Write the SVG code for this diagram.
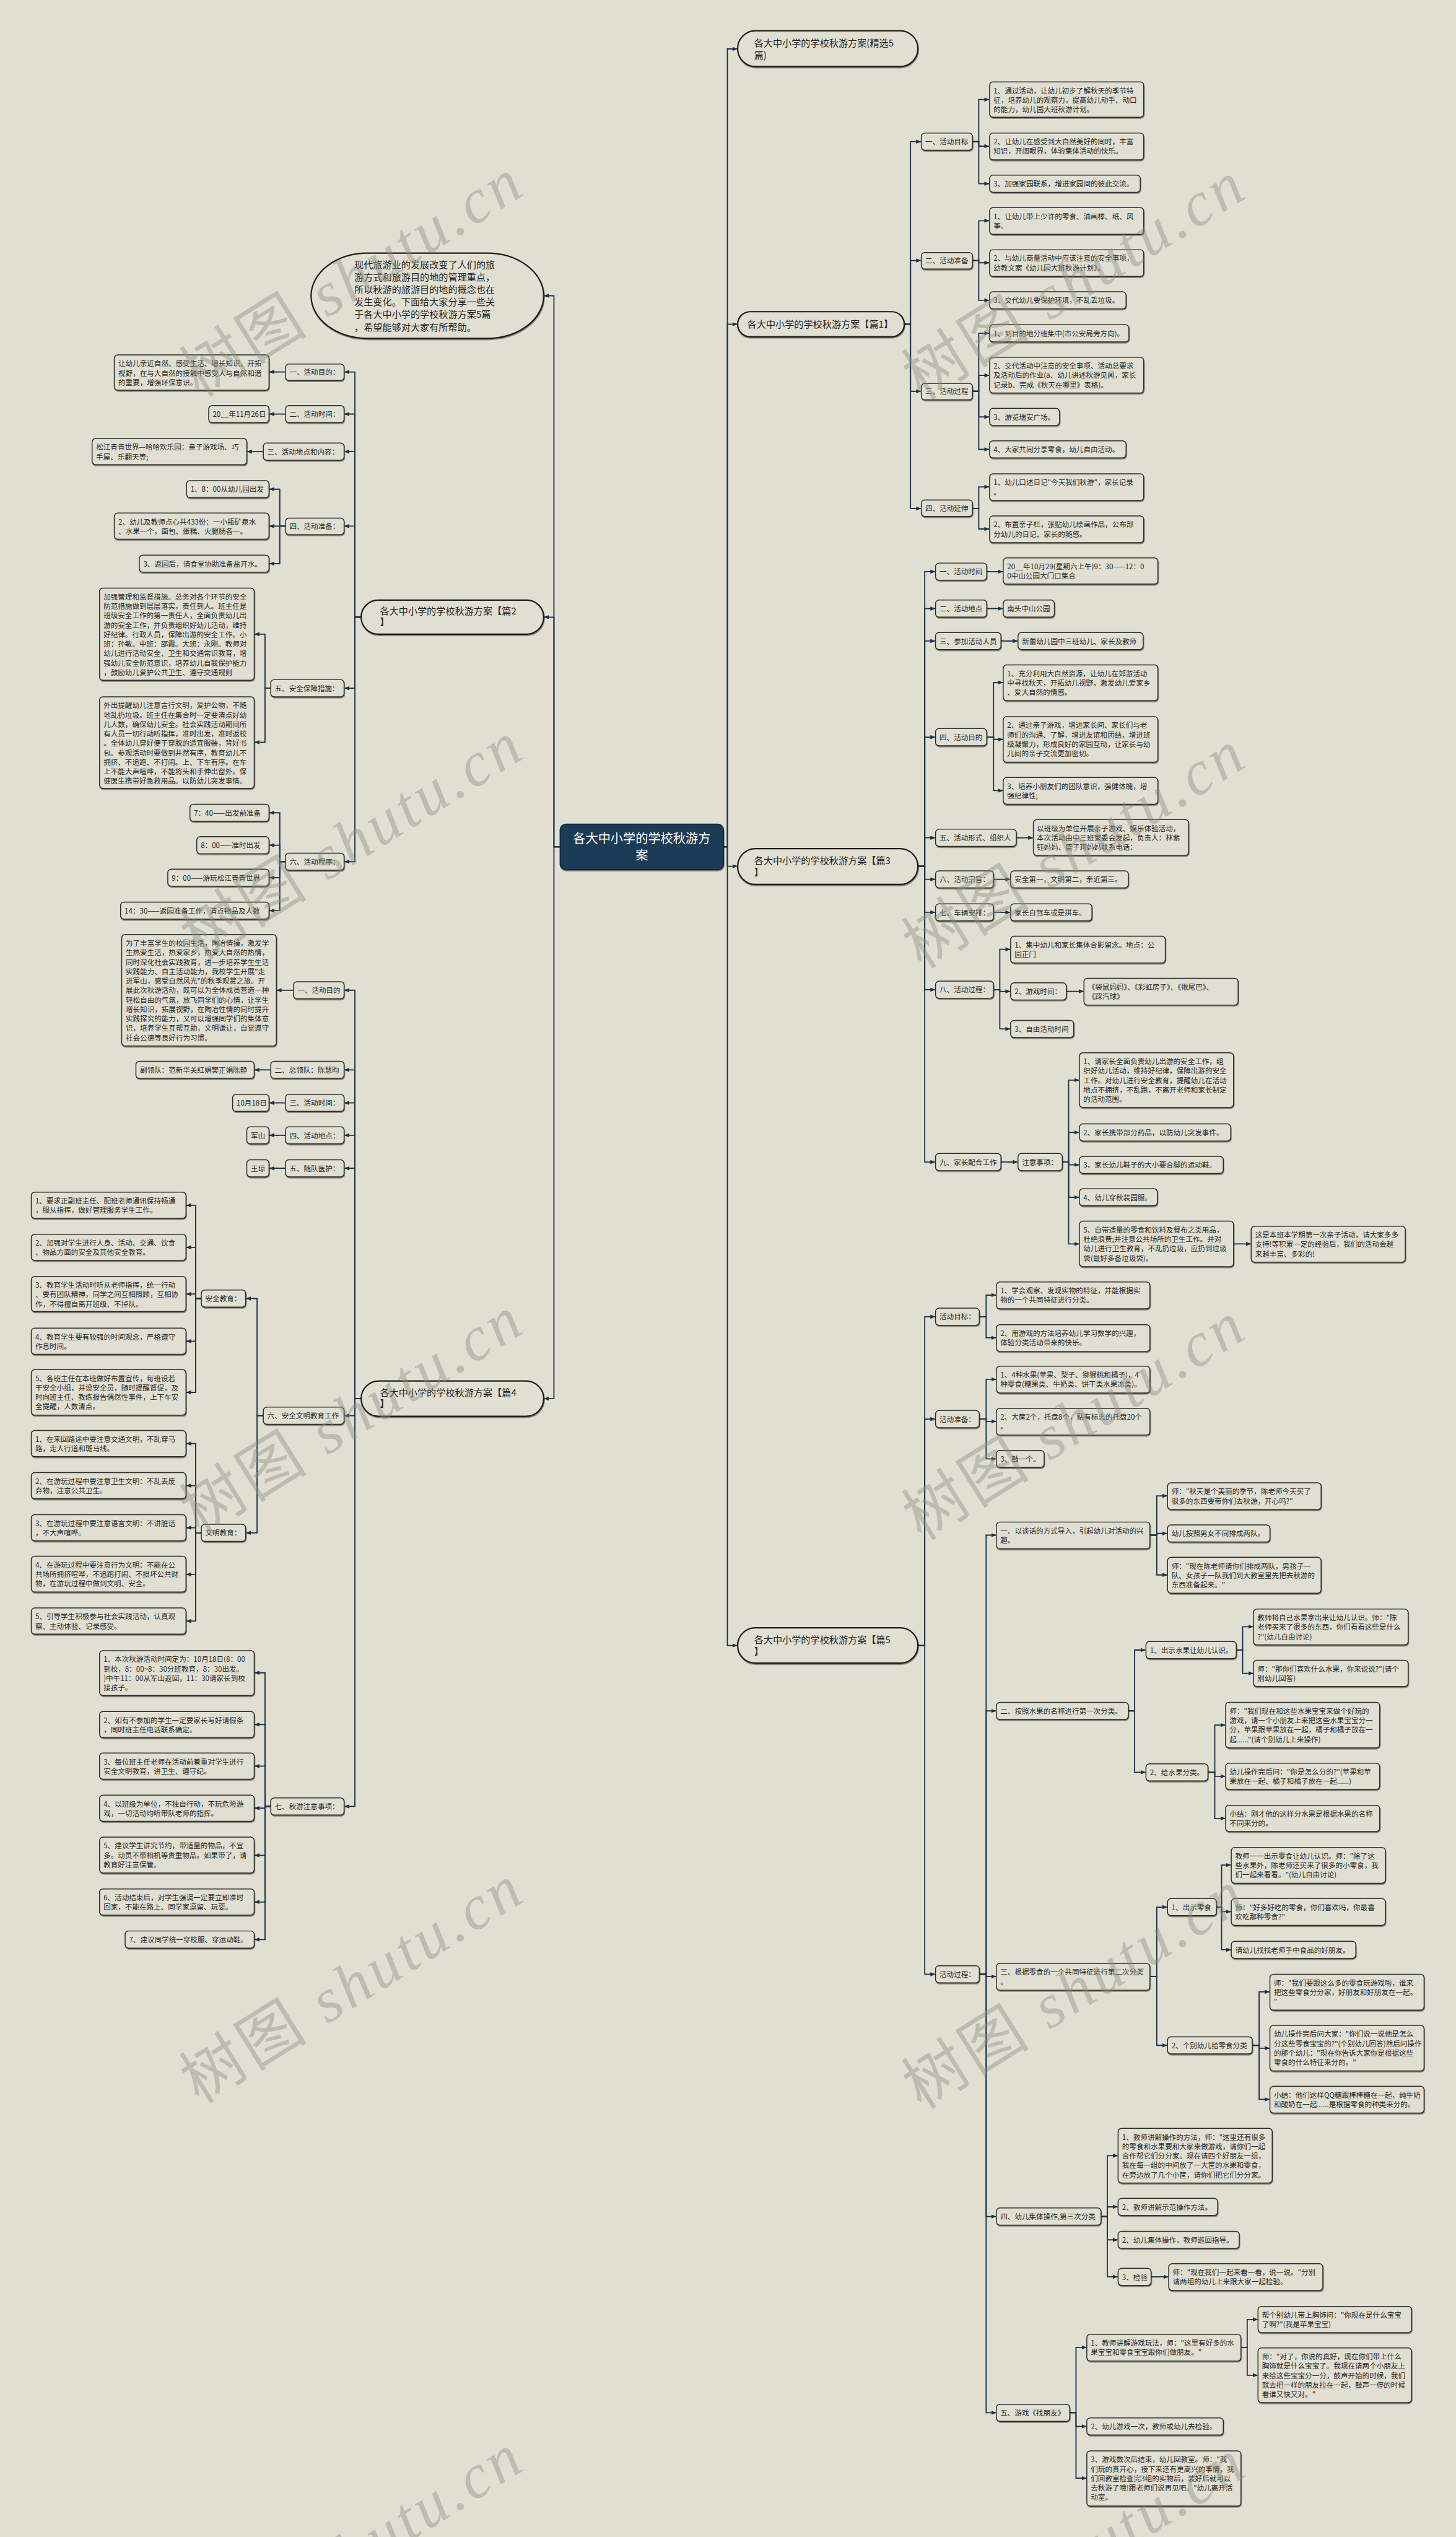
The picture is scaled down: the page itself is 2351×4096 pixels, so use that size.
<svg xmlns="http://www.w3.org/2000/svg" width="2351" height="4096" viewBox="0 0 2351 4096">
<style>
.b{fill:#e0dfd2;stroke:#2a2a2a;stroke-width:1.6;filter:url(#sh)}
.p{fill:#e0dfd2;stroke:#1e1e1e;stroke-width:2.4;filter:url(#sh)}
.t{font-family:"Noto Sans CJK SC","Noto Sans",sans-serif;font-size:12.6px;fill:#262626}
.tp{font-family:"Noto Sans CJK SC","Noto Sans",sans-serif;font-size:16.5px;fill:#222}
.tr{font-family:"Noto Sans CJK SC","Noto Sans",sans-serif;font-size:22px;fill:#ffffff;text-anchor:middle}
.c path{fill:none;stroke:#1b3149;stroke-width:2;marker-end:url(#ar)}
.wm{font-family:"Liberation Serif","Noto Sans CJK SC",serif;font-size:110px;fill:#8d8d83;opacity:0.42;letter-spacing:6px}
</style>
<defs>
<marker id="ar" viewBox="0 0 10 10" refX="9" refY="5" markerWidth="9" markerHeight="9" markerUnits="userSpaceOnUse" orient="auto"><path d="M0,1 L10,5 L0,9 z" fill="#1b3149"/></marker>
<filter id="sh" x="-5%" y="-10%" width="110%" height="130%"><feDropShadow dx="0.8" dy="1.8" stdDeviation="0.6" flood-color="#000" flood-opacity="0.5"/></filter>
</defs>
<rect width="2351" height="4096" fill="#e0dfd2"/>
<g transform="scale(0.9183)">
<g class="c" id="connectors">
<path d="M985,1489H974V520H957"/><path d="M985,1489H974V1085H957"/><path d="M985,1489H974V2459H957"/>
<path d="M1272,1489H1279V86H1296"/><path d="M1272,1489H1279V570H1296"/><path d="M1272,1489H1279V1523H1296"/><path d="M1272,1489H1279V2893H1296"/>
<path d="M635,1085H624V654H606"/><path d="M635,1085H624V728H606"/><path d="M635,1085H624V794H606"/><path d="M635,1085H624V925H606"/><path d="M635,1085H624V1210H606"/><path d="M635,1085H624V1515H606"/>
<path d="M502,654H474"/><path d="M502,728H474"/><path d="M463,794H435"/>
<path d="M502,925H492V860H474"/><path d="M502,925H474"/><path d="M502,925H492V991H474"/>
<path d="M476,1210H466V1115H448"/><path d="M476,1210H466V1305H448"/>
<path d="M502,1515H492V1429H474"/><path d="M502,1515H492V1486H474"/><path d="M502,1515H492V1543H474"/><path d="M502,1515H492V1601H474"/>
<path d="M635,2459H624V1741H606"/><path d="M635,2459H624V1881H606"/><path d="M635,2459H624V1939H606"/><path d="M635,2459H624V1996H606"/><path d="M635,2459H624V2054H606"/><path d="M635,2459H624V2489H606"/><path d="M635,2459H624V3176H606"/>
<path d="M516,1741H487"/><path d="M476,1881H448"/><path d="M502,1939H474"/><path d="M502,1996H474"/><path d="M502,2054H474"/>
<path d="M463,2489H452V2283H433"/><path d="M463,2489H452V2695H433"/>
<path d="M354,2283H344V2119H328"/><path d="M354,2283H344V2193H328"/><path d="M354,2283H344V2275H328"/><path d="M354,2283H344V2358H328"/><path d="M354,2283H344V2448H328"/>
<path d="M354,2695H344V2538H328"/><path d="M354,2695H344V2612H328"/><path d="M354,2695H344V2686H328"/><path d="M354,2695H344V2768H328"/><path d="M354,2695H344V2850H328"/>
<path d="M476,3176H466V2941H448"/><path d="M476,3176H466V3032H448"/><path d="M476,3176H466V3105H448"/><path d="M476,3176H466V3179H448"/><path d="M476,3176H466V3262H448"/><path d="M476,3176H466V3344H448"/><path d="M476,3176H466V3410H448"/>
<path d="M1590,570H1601V249H1619"/><path d="M1590,570H1601V458H1619"/><path d="M1590,570H1601V688H1619"/><path d="M1590,570H1601V894H1619"/>
<path d="M1710,249H1721V175H1739"/><path d="M1710,249H1721V257H1739"/><path d="M1710,249H1721V323H1739"/>
<path d="M1710,458H1721V388H1739"/><path d="M1710,458H1721V462H1739"/><path d="M1710,458H1721V528H1739"/>
<path d="M1710,688H1721V586H1739"/><path d="M1710,688H1721V660H1739"/><path d="M1710,688H1721V733H1739"/><path d="M1710,688H1721V790H1739"/>
<path d="M1710,894H1721V856H1739"/><path d="M1710,894H1721V930H1739"/>
<path d="M1614,1523H1626V1005H1644"/><path d="M1614,1523H1626V1070H1644"/><path d="M1614,1523H1626V1127H1644"/><path d="M1614,1523H1626V1296H1644"/><path d="M1614,1523H1626V1473H1644"/><path d="M1614,1523H1626V1546H1644"/><path d="M1614,1523H1626V1604H1644"/><path d="M1614,1523H1626V1740H1644"/><path d="M1614,1523H1626V2043H1644"/>
<path d="M1735,1005H1763"/><path d="M1735,1070H1763"/><path d="M1760,1127H1789"/>
<path d="M1735,1296H1747V1200H1763"/><path d="M1735,1296H1747V1300H1763"/><path d="M1735,1296H1747V1390H1763"/>
<path d="M1787,1473H1816"/><path d="M1747,1546H1776"/><path d="M1747,1604H1776"/>
<path d="M1747,1740H1758V1669H1776"/><path d="M1747,1740H1758V1743H1776"/><path d="M1747,1740H1758V1809H1776"/>
<path d="M1875,1743H1905"/>
<path d="M1760,2043H1789"/>
<path d="M1868,2043H1879V1899H1897"/><path d="M1868,2043H1879V1991H1897"/><path d="M1868,2043H1879V2048H1897"/><path d="M1868,2043H1879V2105H1897"/><path d="M1868,2043H1879V2187H1897"/>
<path d="M2169,2187H2199"/>
<path d="M1614,2893H1626V2315H1644"/><path d="M1614,2893H1626V2495H1644"/><path d="M1614,2893H1626V3471H1644"/>
<path d="M1722,2315H1734V2277H1751"/><path d="M1722,2315H1734V2352H1751"/>
<path d="M1722,2495H1734V2425H1751"/><path d="M1722,2495H1734V2499H1751"/><path d="M1722,2495H1734V2565H1751"/>
<path d="M1722,3471H1734V2699H1751"/><path d="M1722,3471H1734V3008H1751"/><path d="M1722,3471H1734V3475H1751"/><path d="M1722,3471H1734V3897H1751"/><path d="M1722,3471H1734V4242H1751"/>
<path d="M2022,2699H2034V2630H2052"/><path d="M2022,2699H2034V2696H2052"/><path d="M2022,2699H2034V2769H2052"/>
<path d="M1984,3008H1995V2901H2014"/><path d="M1984,3008H1995V3116H2014"/>
<path d="M2174,2901H2185V2860H2203"/><path d="M2174,2901H2185V2942H2203"/>
<path d="M2124,3116H2136V3033H2154"/><path d="M2124,3116H2136V3123H2154"/><path d="M2124,3116H2136V3197H2154"/>
<path d="M2022,3475H2034V3353H2052"/><path d="M2022,3475H2034V3596H2052"/>
<path d="M2139,3353H2148V3279H2164"/><path d="M2139,3353H2148V3361H2164"/><path d="M2139,3353H2148V3428H2164"/>
<path d="M2202,3596H2214V3502H2232"/><path d="M2202,3596H2214V3601H2232"/><path d="M2202,3596H2214V3691H2232"/>
<path d="M1936,3897H1947V3790H1965"/><path d="M1936,3897H1947V3880H1965"/><path d="M1936,3897H1947V3938H1965"/><path d="M1936,3897H1947V4003H1965"/>
<path d="M2024,4003H2054"/>
<path d="M1881,4242H1892V4127H1910"/><path d="M1881,4242H1892V4266H1910"/><path d="M1881,4242H1892V4357H1910"/>
<path d="M2182,4127H2193V4078H2211"/><path d="M2182,4127H2193V4176H2211"/>
</g>

<g id="root"><rect x="985" y="1449" width="287" height="80" rx="10" fill="#1f3b57" stroke="#13263a" stroke-width="2" filter="url(#sh)"/><text class="tr" x="1128.5" y="1482">各大中小学的学校秋游方<tspan x="1128.5" dy="30">案</tspan></text></g>

<g id="intro"><rect class="p" x="547" y="445" width="409" height="150" rx="100" ry="75"/><text class="tp" x="623" y="471">现代旅游业的发展改变了人们的旅<tspan x="623" dy="22">游方式和旅游目的地的管理重点，</tspan><tspan x="623" dy="22">所以秋游的旅游目的地的概念也在</tspan><tspan x="623" dy="22">发生变化。下面给大家分享一些关</tspan><tspan x="623" dy="22">于各大中小学的学校秋游方案5篇</tspan><tspan x="623" dy="22">，希望能够对大家有所帮助。</tspan></text></g>

<g id="p2"><rect class="p" x="635" y="1055" width="321" height="60" rx="30"/><text class="tp" x="668" y="1080">各大中小学的学校秋游方案【篇2<tspan x="668" dy="20">】</tspan></text></g>
<g id="p2-1"><rect class="b" x="502" y="640" width="103" height="29" rx="6"/><text class="t" x="509" y="659">一、活动目的：</text></g>
<g id="p2-1a"><rect class="b" x="201" y="624" width="272" height="62" rx="6"/><text class="t" x="208" y="644">让幼儿亲近自然、感受生活、增长知识、开拓<tspan x="208" dy="16.6">视野，在与大自然的接触中感受人与自然和谐</tspan><tspan x="208" dy="16.6">的重要，增强环保意识。</tspan></text></g>
<g id="p2-2"><rect class="b" x="502" y="713" width="103" height="30" rx="6"/><text class="t" x="509" y="733">二、活动时间：</text></g>
<g id="p2-2a"><rect class="b" x="367" y="713" width="106" height="30" rx="6"/><text class="t" x="374" y="733">20__年11月26日</text></g>
<g id="p2-3"><rect class="b" x="463" y="779" width="142" height="30" rx="6"/><text class="t" x="470" y="799">三、活动地点和内容：</text></g>
<g id="p2-3a"><rect class="b" x="162" y="771" width="272" height="46" rx="6"/><text class="t" x="169" y="791">松江青青世界—哈哈欢乐园：亲子游戏场、巧<tspan x="169" dy="16.6">手屋、乐翻天等;</tspan></text></g>
<g id="p2-4"><rect class="b" x="502" y="911" width="103" height="29" rx="6"/><text class="t" x="509" y="930">四、活动准备：</text></g>
<g id="p2-4a"><rect class="b" x="328" y="845" width="145" height="30" rx="6"/><text class="t" x="335" y="865">1、8：00从幼儿园出发</text></g>
<g id="p2-4b"><rect class="b" x="201" y="902" width="272" height="46" rx="6"/><text class="t" x="208" y="922">2、幼儿及教师点心共433份：一小瓶矿泉水<tspan x="208" dy="16.6">、水果一个，面包、蛋糕、火腿肠各一。</tspan></text></g>
<g id="p2-4c"><rect class="b" x="245" y="976" width="228" height="30" rx="6"/><text class="t" x="252" y="996">3、返园后，请食堂协助准备盐开水。</text></g>
<g id="p2-5"><rect class="b" x="476" y="1195" width="129" height="30" rx="6"/><text class="t" x="483" y="1215">五、安全保障措施：</text></g>
<g id="p2-5a"><rect class="b" x="175" y="1034" width="272" height="162" rx="6"/><text class="t" x="182" y="1054">加强管理和监督措施。总务对各个环节的安全<tspan x="182" dy="16.6">防范措施做到层层落实，责任到人。班主任是</tspan><tspan x="182" dy="16.6">班级安全工作的第一责任人，全面负责幼儿出</tspan><tspan x="182" dy="16.6">游的安全工作，并负责组织好幼儿活动，维持</tspan><tspan x="182" dy="16.6">好纪律。行政人员，保障出游的安全工作。小</tspan><tspan x="182" dy="16.6">班：孙敏。中班：邵霞。大班：永刚。教师对</tspan><tspan x="182" dy="16.6">幼儿进行活动安全、卫生和交通常识教育，增</tspan><tspan x="182" dy="16.6">强幼儿安全防范意识，培养幼儿自我保护能力</tspan><tspan x="182" dy="16.6">，鼓励幼儿爱护公共卫生、遵守交通规则</tspan></text></g>
<g id="p2-5b"><rect class="b" x="175" y="1225" width="272" height="161" rx="6"/><text class="t" x="182" y="1245">外出提醒幼儿注意言行文明，爱护公物，不随<tspan x="182" dy="16.6">地乱扔垃圾。班主任在集合时一定要清点好幼</tspan><tspan x="182" dy="16.6">儿人数，确保幼儿安全。社会实践活动期间所</tspan><tspan x="182" dy="16.6">有人员一切行动听指挥，准时出发，准时返校</tspan><tspan x="182" dy="16.6">。全体幼儿穿好便于穿脱的适宜服装，背好书</tspan><tspan x="182" dy="16.6">包。参观活动时要做到井然有序，教育幼儿不</tspan><tspan x="182" dy="16.6">拥挤、不追跑、不打闹。上、下车有序。在车</tspan><tspan x="182" dy="16.6">上不能大声喧哗，不能将头和手伸出窗外。保</tspan><tspan x="182" dy="16.6">健医生携带好急救用品。以防幼儿突发事情。</tspan></text></g>
<g id="p2-6"><rect class="b" x="502" y="1500" width="103" height="30" rx="6"/><text class="t" x="509" y="1520">六、活动程序：</text></g>
<g id="p2-6a"><rect class="b" x="334" y="1414" width="139" height="30" rx="6"/><text class="t" x="341" y="1434">7：40——出发前准备</text></g>
<g id="p2-6b"><rect class="b" x="346" y="1471" width="127" height="30" rx="6"/><text class="t" x="353" y="1491">8：00——准时出发</text></g>
<g id="p2-6c"><rect class="b" x="295" y="1528" width="178" height="30" rx="6"/><text class="t" x="302" y="1548">9：00——游玩松江青青世界</text></g>
<g id="p2-6d"><rect class="b" x="212" y="1586" width="261" height="30" rx="6"/><text class="t" x="219" y="1606">14：30——返园准备工作，清点物品及人数</text></g>

<g id="p4"><rect class="p" x="635" y="2428" width="321" height="62" rx="31"/><text class="tp" x="668" y="2454">各大中小学的学校秋游方案【篇4<tspan x="668" dy="20">】</tspan></text></g>
<g id="p4-1"><rect class="b" x="516" y="1726" width="89" height="30" rx="6"/><text class="t" x="523" y="1746">一、活动目的</text></g>
<g id="p4-1a"><rect class="b" x="214" y="1643" width="272" height="196" rx="6"/><text class="t" x="221" y="1663">为了丰富学生的校园生活，陶冶情操，激发学<tspan x="221" dy="16.6">生热爱生活，热爱家乡，热爱大自然的热情，</tspan><tspan x="221" dy="16.6">同时深化社会实践教育，进一步培养学生生活</tspan><tspan x="221" dy="16.6">实践能力、自主活动能力，我校学生开展"走</tspan><tspan x="221" dy="16.6">进军山，感受自然风光"的秋季观赏之旅。开</tspan><tspan x="221" dy="16.6">展此次秋游活动，既可以为全体成员营造一种</tspan><tspan x="221" dy="16.6">轻松自由的气氛，放飞同学们的心情，让学生</tspan><tspan x="221" dy="16.6">增长知识，拓展视野，在陶冶性情的同时提升</tspan><tspan x="221" dy="16.6">实践探究的能力，又可以增强同学们的集体意</tspan><tspan x="221" dy="16.6">识，培养学生互帮互助，文明谦让，自觉遵守</tspan><tspan x="221" dy="16.6">社会公德等良好行为习惯。</tspan></text></g>
<g id="p4-2"><rect class="b" x="476" y="1866" width="129" height="30" rx="6"/><text class="t" x="483" y="1886">二、总领队：陈慧昀</text></g>
<g id="p4-2a"><rect class="b" x="239" y="1866" width="208" height="30" rx="6"/><text class="t" x="246" y="1886">副领队：范新华关红娟樊正娟陈静</text></g>
<g id="p4-3"><rect class="b" x="502" y="1924" width="103" height="30" rx="6"/><text class="t" x="509" y="1944">三、活动时间：</text></g>
<g id="p4-3a"><rect class="b" x="409" y="1924" width="64" height="30" rx="6"/><text class="t" x="416" y="1944">10月18日</text></g>
<g id="p4-4"><rect class="b" x="502" y="1981" width="103" height="30" rx="6"/><text class="t" x="509" y="2001">四、活动地点：</text></g>
<g id="p4-4a"><rect class="b" x="434" y="1981" width="39" height="30" rx="6"/><text class="t" x="441" y="2001">军山</text></g>
<g id="p4-5"><rect class="b" x="502" y="2039" width="103" height="30" rx="6"/><text class="t" x="509" y="2059">五、随队医护：</text></g>
<g id="p4-5a"><rect class="b" x="434" y="2039" width="39" height="30" rx="6"/><text class="t" x="441" y="2059">王琼</text></g>
<g id="p4-6"><rect class="b" x="463" y="2474" width="142" height="30" rx="6"/><text class="t" x="470" y="2494">六、安全文明教育工作</text></g>
<g id="p4-6s"><rect class="b" x="354" y="2268" width="78" height="30" rx="6"/><text class="t" x="361" y="2288">安全教育：</text></g>
<g id="p4-6s1"><rect class="b" x="55" y="2096" width="272" height="46" rx="6"/><text class="t" x="62" y="2116">1、要求正副班主任、配班老师通讯保持畅通<tspan x="62" dy="16.6">，服从指挥，做好管理服务学生工作。</tspan></text></g>
<g id="p4-6s2"><rect class="b" x="55" y="2170" width="272" height="46" rx="6"/><text class="t" x="62" y="2190">2、加强对学生进行人身、活动、交通、饮食<tspan x="62" dy="16.6">、物品方面的安全及其他安全教育。</tspan></text></g>
<g id="p4-6s3"><rect class="b" x="55" y="2244" width="272" height="62" rx="6"/><text class="t" x="62" y="2264">3、教育学生活动时听从老师指挥，统一行动<tspan x="62" dy="16.6">、要有团队精神，同学之间互相照顾，互相协</tspan><tspan x="62" dy="16.6">作，不得擅自离开班级、不掉队。</tspan></text></g>
<g id="p4-6s4"><rect class="b" x="55" y="2335" width="272" height="46" rx="6"/><text class="t" x="62" y="2355">4、教育学生要有较强的时间观念，严格遵守<tspan x="62" dy="16.6">作息时间。</tspan></text></g>
<g id="p4-6s5"><rect class="b" x="55" y="2408" width="272" height="80" rx="6"/><text class="t" x="62" y="2428">5、各班主任在本班做好布置宣传，每班设若<tspan x="62" dy="16.6">干安全小组，并设安全员，随时提醒督促，及</tspan><tspan x="62" dy="16.6">时向班主任、教练报告偶然性事件，上下车安</tspan><tspan x="62" dy="16.6">全提醒，人数清点。</tspan></text></g>
<g id="p4-6w"><rect class="b" x="354" y="2680" width="78" height="30" rx="6"/><text class="t" x="361" y="2700">文明教育：</text></g>
<g id="p4-6w1"><rect class="b" x="55" y="2515" width="272" height="46" rx="6"/><text class="t" x="62" y="2535">1、在来回路途中要注意交通文明，不乱穿马<tspan x="62" dy="16.6">路，走人行道和斑马线。</tspan></text></g>
<g id="p4-6w2"><rect class="b" x="55" y="2589" width="272" height="46" rx="6"/><text class="t" x="62" y="2609">2、在游玩过程中要注意卫生文明：不乱丢废<tspan x="62" dy="16.6">弃物，注意公共卫生。</tspan></text></g>
<g id="p4-6w3"><rect class="b" x="55" y="2663" width="272" height="46" rx="6"/><text class="t" x="62" y="2683">3、在游玩过程中要注意语言文明：不讲脏话<tspan x="62" dy="16.6">，不大声喧哗。</tspan></text></g>
<g id="p4-6w4"><rect class="b" x="55" y="2736" width="272" height="63" rx="6"/><text class="t" x="62" y="2756">4、在游玩过程中要注意行为文明：不能在公<tspan x="62" dy="16.6">共场所拥挤喧哗，不追跑打闹、不损坏公共财</tspan><tspan x="62" dy="16.6">物，在游玩过程中做到文明、安全。</tspan></text></g>
<g id="p4-6w5"><rect class="b" x="55" y="2827" width="272" height="46" rx="6"/><text class="t" x="62" y="2847">5、引导学生积极参与社会实践活动，认真观<tspan x="62" dy="16.6">察、主动体验、记录感受。</tspan></text></g>
<g id="p4-7"><rect class="b" x="476" y="3161" width="129" height="30" rx="6"/><text class="t" x="483" y="3181">七、秋游注意事项：</text></g>
<g id="p4-7a"><rect class="b" x="175" y="2902" width="272" height="79" rx="6"/><text class="t" x="182" y="2922">1、本次秋游活动时间定为：10月18日(8：00<tspan x="182" dy="16.6">到校，8：00~8：30分班教育，8：30出发。</tspan><tspan x="182" dy="16.6">)中午11：00从军山返回，11：30请家长到校</tspan><tspan x="182" dy="16.6">接孩子。</tspan></text></g>
<g id="p4-7b"><rect class="b" x="175" y="3009" width="272" height="46" rx="6"/><text class="t" x="182" y="3029">2、如有不参加的学生一定要家长写好请假条<tspan x="182" dy="16.6">，同时班主任电话联系确定。</tspan></text></g>
<g id="p4-7c"><rect class="b" x="175" y="3082" width="272" height="46" rx="6"/><text class="t" x="182" y="3102">3、每位班主任老师在活动前着重对学生进行<tspan x="182" dy="16.6">安全文明教育，讲卫生、遵守纪。</tspan></text></g>
<g id="p4-7d"><rect class="b" x="175" y="3156" width="272" height="46" rx="6"/><text class="t" x="182" y="3176">4、以班级为单位，不独自行动，不玩危险游<tspan x="182" dy="16.6">戏，一切活动均听带队老师的指挥。</tspan></text></g>
<g id="p4-7e"><rect class="b" x="175" y="3230" width="272" height="63" rx="6"/><text class="t" x="182" y="3250">5、建议学生讲究节约，带适量的物品，不宜<tspan x="182" dy="16.6">多。动员不带相机等贵重物品。如果带了，请</tspan><tspan x="182" dy="16.6">教育好注意保管。</tspan></text></g>
<g id="p4-7f"><rect class="b" x="175" y="3321" width="272" height="46" rx="6"/><text class="t" x="182" y="3341">6、活动结束后，对学生强调一定要立即准时<tspan x="182" dy="16.6">回家，不能在路上、同学家逗留、玩耍。</tspan></text></g>
<g id="p4-7g"><rect class="b" x="220" y="3395" width="227" height="30" rx="6"/><text class="t" x="227" y="3415">7、建议同学统一穿校服、穿运动鞋。</text></g>

<g id="p0"><rect class="p" x="1297" y="54" width="317" height="63" rx="31.5"/><text class="tp" x="1326" y="82">各大中小学的学校秋游方案(精选5<tspan x="1326" dy="21">篇)</tspan></text></g>

<g id="p1"><rect class="p" x="1297" y="548" width="293" height="44" rx="22"/><text class="tp" x="1314" y="576">各大中小学的学校秋游方案【篇1】</text></g>
<g id="p1-1"><rect class="b" x="1620" y="234" width="90" height="30" rx="6"/><text class="t" x="1627" y="254">一、活动目标</text></g>
<g id="p1-1a"><rect class="b" x="1740" y="144" width="271" height="62" rx="6"/><text class="t" x="1747" y="164">1、通过活动，让幼儿初步了解秋天的季节特<tspan x="1747" dy="16.6">征，培养幼儿的观察力，提高幼儿动手、动口</tspan><tspan x="1747" dy="16.6">的能力，幼儿园大班秋游计划。</tspan></text></g>
<g id="p1-1b"><rect class="b" x="1740" y="234" width="271" height="47" rx="6"/><text class="t" x="1747" y="254">2、让幼儿在感受到大自然美好的同时，丰富<tspan x="1747" dy="16.6">知识，开阔眼界，体验集体活动的快乐。</tspan></text></g>
<g id="p1-1c"><rect class="b" x="1740" y="308" width="265" height="30" rx="6"/><text class="t" x="1747" y="328">3、加强家园联系，增进家园间的彼此交流。</text></g>
<g id="p1-2"><rect class="b" x="1620" y="444" width="90" height="29" rx="6"/><text class="t" x="1627" y="463">二、活动准备</text></g>
<g id="p1-2a"><rect class="b" x="1740" y="365" width="271" height="47" rx="6"/><text class="t" x="1747" y="385">1、让幼儿带上少许的零食、油画棒、纸、风<tspan x="1747" dy="16.6">筝。</tspan></text></g>
<g id="p1-2b"><rect class="b" x="1740" y="439" width="271" height="47" rx="6"/><text class="t" x="1747" y="459">2、与幼儿商量活动中应该注意的安全事项，<tspan x="1747" dy="16.6">幼教文案《幼儿园大班秋游计划》。</tspan></text></g>
<g id="p1-2c"><rect class="b" x="1740" y="513" width="240" height="30" rx="6"/><text class="t" x="1747" y="533">3、交代幼儿要保护环境，不乱丢垃圾。</text></g>
<g id="p1-3"><rect class="b" x="1620" y="674" width="90" height="29" rx="6"/><text class="t" x="1627" y="693">三、活动过程</text></g>
<g id="p1-3a"><rect class="b" x="1740" y="571" width="245" height="30" rx="6"/><text class="t" x="1747" y="591">1、到目的地分班集中(市公安局旁方向)。</text></g>
<g id="p1-3b"><rect class="b" x="1740" y="628" width="271" height="63" rx="6"/><text class="t" x="1747" y="648">2、交代活动中注意的安全事项、活动总要求<tspan x="1747" dy="16.6">及活动后的作业(a、幼儿讲述秋游见闻，家长</tspan><tspan x="1747" dy="16.6">记录b、完成《秋天在哪里》表格)。</tspan></text></g>
<g id="p1-3c"><rect class="b" x="1740" y="718" width="123" height="30" rx="6"/><text class="t" x="1747" y="738">3、游览瑞安广场。</text></g>
<g id="p1-3d"><rect class="b" x="1740" y="775" width="240" height="30" rx="6"/><text class="t" x="1747" y="795">4、大家共同分享零食，幼儿自由活动。</text></g>
<g id="p1-4"><rect class="b" x="1620" y="879" width="90" height="29" rx="6"/><text class="t" x="1627" y="898">四、活动延伸</text></g>
<g id="p1-4a"><rect class="b" x="1740" y="833" width="271" height="47" rx="6"/><text class="t" x="1747" y="853">1、幼儿口述日记"今天我们秋游"，家长记录<tspan x="1747" dy="16.6">。</tspan></text></g>
<g id="p1-4b"><rect class="b" x="1740" y="907" width="271" height="47" rx="6"/><text class="t" x="1747" y="927">2、布置亲子栏，张贴幼儿绘画作品，公布部<tspan x="1747" dy="16.6">分幼儿的日记、家长的随感。</tspan></text></g>

<g id="p3"><rect class="p" x="1297" y="1492" width="317" height="63" rx="31.5"/><text class="tp" x="1326" y="1519">各大中小学的学校秋游方案【篇3<tspan x="1326" dy="21">】</tspan></text></g>
<g id="p3-1"><rect class="b" x="1645" y="990" width="90" height="30" rx="6"/><text class="t" x="1652" y="1010">一、活动时间</text></g>
<g id="p3-1a"><rect class="b" x="1764" y="981" width="272" height="46" rx="6"/><text class="t" x="1771" y="1001">20__年10月29(星期六上午)9：30——12：0<tspan x="1771" dy="16.6">0中山公园大门口集合</tspan></text></g>
<g id="p3-2"><rect class="b" x="1645" y="1055" width="90" height="30" rx="6"/><text class="t" x="1652" y="1075">二、活动地点</text></g>
<g id="p3-2a"><rect class="b" x="1764" y="1055" width="90" height="30" rx="6"/><text class="t" x="1771" y="1075">南头中山公园</text></g>
<g id="p3-3"><rect class="b" x="1645" y="1112" width="115" height="30" rx="6"/><text class="t" x="1652" y="1132">三、参加活动人员</text></g>
<g id="p3-3a"><rect class="b" x="1790" y="1112" width="220" height="30" rx="6"/><text class="t" x="1797" y="1132">新蕾幼儿园中三班幼儿、家长及教师</text></g>
<g id="p3-4"><rect class="b" x="1645" y="1281" width="90" height="30" rx="6"/><text class="t" x="1652" y="1301">四、活动目的</text></g>
<g id="p3-4a"><rect class="b" x="1764" y="1169" width="272" height="63" rx="6"/><text class="t" x="1771" y="1189">1、充分利用大自然资源，让幼儿在郊游活动<tspan x="1771" dy="16.6">中寻找秋天，开拓幼儿视野，激发幼儿爱家乡</tspan><tspan x="1771" dy="16.6">、爱大自然的情感。</tspan></text></g>
<g id="p3-4b"><rect class="b" x="1764" y="1260" width="272" height="80" rx="6"/><text class="t" x="1771" y="1280">2、通过亲子游戏，增进家长间、家长们与老<tspan x="1771" dy="16.6">师们的沟通、了解，增进友谊和团结，增进班</tspan><tspan x="1771" dy="16.6">级凝聚力，形成良好的家园互动，让家长与幼</tspan><tspan x="1771" dy="16.6">儿间的亲子交流更加密切。</tspan></text></g>
<g id="p3-4c"><rect class="b" x="1764" y="1367" width="272" height="47" rx="6"/><text class="t" x="1771" y="1387">3、培养小朋友们的团队意识，强健体魄，增<tspan x="1771" dy="16.6">强纪律性;</tspan></text></g>
<g id="p3-5"><rect class="b" x="1645" y="1458" width="142" height="30" rx="6"/><text class="t" x="1652" y="1478">五、活动形式、组织人</text></g>
<g id="p3-5a"><rect class="b" x="1817" y="1441" width="273" height="63" rx="6"/><text class="t" x="1823" y="1461">以班级为单位开展亲子游戏、娱乐体验活动，<tspan x="1823" dy="16.6">本次活动由中三班家委会发起，负责人：林紫</tspan><tspan x="1823" dy="16.6">钰妈妈、盛子珂妈妈联系电话：</tspan></text></g>
<g id="p3-6"><rect class="b" x="1645" y="1531" width="102" height="30" rx="6"/><text class="t" x="1652" y="1551">六、活动宗旨：</text></g>
<g id="p3-6a"><rect class="b" x="1777" y="1531" width="207" height="30" rx="6"/><text class="t" x="1784" y="1551">安全第一，文明第二，亲近第三。</text></g>
<g id="p3-7"><rect class="b" x="1645" y="1589" width="102" height="30" rx="6"/><text class="t" x="1652" y="1609">七、车辆安排：</text></g>
<g id="p3-7a"><rect class="b" x="1777" y="1589" width="143" height="30" rx="6"/><text class="t" x="1784" y="1609">家长自驾车或是拼车。</text></g>
<g id="p3-8"><rect class="b" x="1645" y="1725" width="102" height="30" rx="6"/><text class="t" x="1652" y="1745">八、活动过程：</text></g>
<g id="p3-8a"><rect class="b" x="1777" y="1646" width="272" height="47" rx="6"/><text class="t" x="1784" y="1666">1、集中幼儿和家长集体合影留念。地点：公<tspan x="1784" dy="16.6">园正门</tspan></text></g>
<g id="p3-8b"><rect class="b" x="1777" y="1728" width="98" height="30" rx="6"/><text class="t" x="1784" y="1748">2、游戏时间：</text></g>
<g id="p3-8b1"><rect class="b" x="1906" y="1720" width="271" height="47" rx="6"/><text class="t" x="1913" y="1740">《袋鼠妈妈》、《彩虹房子》、《揪尾巴》、<tspan x="1913" dy="16.6">《踩汽球》</tspan></text></g>
<g id="p3-8c"><rect class="b" x="1777" y="1794" width="111" height="30" rx="6"/><text class="t" x="1784" y="1814">3、自由活动时间</text></g>
<g id="p3-9"><rect class="b" x="1645" y="2028" width="115" height="30" rx="6"/><text class="t" x="1652" y="2048">九、家长配合工作</text></g>
<g id="p3-9n"><rect class="b" x="1790" y="2028" width="78" height="30" rx="6"/><text class="t" x="1797" y="2048">注意事项：</text></g>
<g id="p3-9a"><rect class="b" x="1898" y="1851" width="271" height="96" rx="6"/><text class="t" x="1905" y="1871">1、请家长全面负责幼儿出游的安全工作，组<tspan x="1905" dy="16.6">织好幼儿活动，维持好纪律，保障出游的安全</tspan><tspan x="1905" dy="16.6">工作。对幼儿进行安全教育，提醒幼儿在活动</tspan><tspan x="1905" dy="16.6">地点不拥挤，不乱跑，不离开老师和家长制定</tspan><tspan x="1905" dy="16.6">的活动范围。</tspan></text></g>
<g id="p3-9b"><rect class="b" x="1898" y="1976" width="266" height="30" rx="6"/><text class="t" x="1905" y="1996">2、家长携带部分药品，以防幼儿突发事件。</text></g>
<g id="p3-9c"><rect class="b" x="1898" y="2033" width="253" height="30" rx="6"/><text class="t" x="1905" y="2053">3、家长幼儿鞋子的大小要合脚的运动鞋。</text></g>
<g id="p3-9d"><rect class="b" x="1898" y="2090" width="137" height="30" rx="6"/><text class="t" x="1905" y="2110">4、幼儿穿秋装园服。</text></g>
<g id="p3-9e"><rect class="b" x="1898" y="2147" width="271" height="80" rx="6"/><text class="t" x="1905" y="2167">5、自带适量的零食和饮料及餐布之类用品，<tspan x="1905" dy="16.6">杜绝浪费;并注意公共场所的卫生工作。并对</tspan><tspan x="1905" dy="16.6">幼儿进行卫生教育，不乱扔垃圾，应扔到垃圾</tspan><tspan x="1905" dy="16.6">袋(最好多备垃圾袋)。</tspan></text></g>
<g id="p3-9f"><rect class="b" x="2200" y="2156" width="271" height="63" rx="6"/><text class="t" x="2207" y="2176">这是本班本学期第一次亲子活动，请大家多多<tspan x="2207" dy="16.6">支持!等积累一定的经验后，我们的活动会越</tspan><tspan x="2207" dy="16.6">来越丰富、多彩的!</tspan></text></g>

<g id="p5"><rect class="p" x="1297" y="2862" width="317" height="62" rx="31"/><text class="tp" x="1326" y="2889">各大中小学的学校秋游方案【篇5<tspan x="1326" dy="21">】</tspan></text></g>
<g id="p5-1"><rect class="b" x="1645" y="2300" width="77" height="30" rx="6"/><text class="t" x="1652" y="2320">活动目标：</text></g>
<g id="p5-1a"><rect class="b" x="1752" y="2254" width="270" height="47" rx="6"/><text class="t" x="1759" y="2274">1、学会观察、发现实物的特征，并能根据实<tspan x="1759" dy="16.6">物的一个共同特征进行分类。</tspan></text></g>
<g id="p5-1b"><rect class="b" x="1752" y="2329" width="270" height="47" rx="6"/><text class="t" x="1759" y="2349">2、用游戏的方法培养幼儿学习数学的兴趣，<tspan x="1759" dy="16.6">体验分类活动带来的快乐。</tspan></text></g>
<g id="p5-2"><rect class="b" x="1645" y="2480" width="77" height="30" rx="6"/><text class="t" x="1652" y="2500">活动准备：</text></g>
<g id="p5-2a"><rect class="b" x="1752" y="2402" width="270" height="47" rx="6"/><text class="t" x="1759" y="2422">1、4种水果(苹果、梨子、猕猴桃和橘子)，4<tspan x="1759" dy="16.6">种零食(糖果类、牛奶类、饼干类水果冻类)。</tspan></text></g>
<g id="p5-2b"><rect class="b" x="1752" y="2476" width="270" height="47" rx="6"/><text class="t" x="1759" y="2496">2、大筐2个，托盘8个，贴有标志的托盘20个<tspan x="1759" dy="16.6">。</tspan></text></g>
<g id="p5-2c"><rect class="b" x="1752" y="2550" width="84" height="30" rx="6"/><text class="t" x="1759" y="2570">3、鼓一个。</text></g>
<g id="p5-3"><rect class="b" x="1645" y="3456" width="77" height="30" rx="6"/><text class="t" x="1652" y="3476">活动过程：</text></g>
<g id="p5-3a"><rect class="b" x="1752" y="2676" width="270" height="47" rx="6"/><text class="t" x="1759" y="2696">一、以谈话的方式导入，引起幼儿对活动的兴<tspan x="1759" dy="16.6">趣。</tspan></text></g>
<g id="p5-3a1"><rect class="b" x="2053" y="2607" width="270" height="47" rx="6"/><text class="t" x="2060" y="2627">师："秋天是个美丽的季节，陈老师今天买了<tspan x="2060" dy="16.6">很多的东西要带你们去秋游，开心吗?"</tspan></text></g>
<g id="p5-3a2"><rect class="b" x="2053" y="2681" width="180" height="30" rx="6"/><text class="t" x="2060" y="2701">幼儿按照男女不同排成两队。</text></g>
<g id="p5-3a3"><rect class="b" x="2053" y="2738" width="270" height="63" rx="6"/><text class="t" x="2060" y="2758">师："现在陈老师请你们排成两队，男孩子一<tspan x="2060" dy="16.6">队、女孩子一队我们到大教室里先把去秋游的</tspan><tspan x="2060" dy="16.6">东西准备起来。"</tspan></text></g>
<g id="p5-3b"><rect class="b" x="1752" y="2993" width="232" height="30" rx="6"/><text class="t" x="1759" y="3013">二、按照水果的名称进行第一次分类。</text></g>
<g id="p5-3b1"><rect class="b" x="2015" y="2886" width="159" height="30" rx="6"/><text class="t" x="2022" y="2906">1、出示水果让幼儿认识。</text></g>
<g id="p5-3b1a"><rect class="b" x="2204" y="2829" width="272" height="63" rx="6"/><text class="t" x="2211" y="2849">教师将自己水果拿出来让幼儿认识。师："陈<tspan x="2211" dy="16.6">老师买来了很多的东西，你们看看这些是什么</tspan><tspan x="2211" dy="16.6">?"(幼儿自由讨论)</tspan></text></g>
<g id="p5-3b1b"><rect class="b" x="2204" y="2919" width="272" height="46" rx="6"/><text class="t" x="2211" y="2939">师："那你们喜欢什么水果，你来说说?"(请个<tspan x="2211" dy="16.6">别幼儿回答)</tspan></text></g>
<g id="p5-3b2"><rect class="b" x="2015" y="3101" width="109" height="30" rx="6"/><text class="t" x="2022" y="3121">2、给水果分类。</text></g>
<g id="p5-3b2a"><rect class="b" x="2155" y="2993" width="271" height="80" rx="6"/><text class="t" x="2162" y="3013">师："我们现在和这些水果宝宝来做个好玩的<tspan x="2162" dy="16.6">游戏，请一个小朋友上来把这些水果宝宝分一</tspan><tspan x="2162" dy="16.6">分，苹果跟苹果放在一起，橘子和橘子放在一</tspan><tspan x="2162" dy="16.6">起......"(请个别幼儿上来操作)</tspan></text></g>
<g id="p5-3b2b"><rect class="b" x="2155" y="3100" width="271" height="46" rx="6"/><text class="t" x="2162" y="3120">幼儿操作完后问："你是怎么分的?"(苹果和苹<tspan x="2162" dy="16.6">果放在一起、橘子和橘子放在一起......)</tspan></text></g>
<g id="p5-3b2c"><rect class="b" x="2155" y="3174" width="271" height="46" rx="6"/><text class="t" x="2162" y="3194">小结：刚才他的这样分水果是根据水果的名称<tspan x="2162" dy="16.6">不同来分的。</tspan></text></g>
<g id="p5-3c"><rect class="b" x="1752" y="3452" width="270" height="47" rx="6"/><text class="t" x="1759" y="3472">三、根据零食的一个共同特征进行第二次分类<tspan x="1759" dy="16.6">。</tspan></text></g>
<g id="p5-3c1"><rect class="b" x="2053" y="3338" width="86" height="30" rx="6"/><text class="t" x="2060" y="3358">1、出示零食</text></g>
<g id="p5-3c1a"><rect class="b" x="2165" y="3248" width="271" height="63" rx="6"/><text class="t" x="2172" y="3268">教师一一出示零食让幼儿认识。师："除了这<tspan x="2172" dy="16.6">些水果外，陈老师还买来了很多的小零食，我</tspan><tspan x="2172" dy="16.6">们一起来看看。"(幼儿自由讨论)</tspan></text></g>
<g id="p5-3c1b"><rect class="b" x="2165" y="3338" width="271" height="47" rx="6"/><text class="t" x="2172" y="3358">师："好多好吃的零食，你们喜欢吗，你最喜<tspan x="2172" dy="16.6">欢吃那种零食?"</tspan></text></g>
<g id="p5-3c1c"><rect class="b" x="2165" y="3413" width="219" height="30" rx="6"/><text class="t" x="2172" y="3433">请幼儿找找老师手中食品的好朋友。</text></g>
<g id="p5-3c2"><rect class="b" x="2053" y="3581" width="149" height="30" rx="6"/><text class="t" x="2060" y="3601">2、个别幼儿给零食分类</text></g>
<g id="p5-3c2a"><rect class="b" x="2233" y="3471" width="271" height="63" rx="6"/><text class="t" x="2240" y="3491">师："我们要跟这么多的零食玩游戏啦，谁来<tspan x="2240" dy="16.6">把这些零食分分家，好朋友和好朋友在一起。</tspan><tspan x="2240" dy="16.6">"</tspan></text></g>
<g id="p5-3c2b"><rect class="b" x="2233" y="3561" width="271" height="80" rx="6"/><text class="t" x="2240" y="3581">幼儿操作完后问大家："你们说一说他是怎么<tspan x="2240" dy="16.6">分这些零食宝宝的?"(个别幼儿回答)然后问操作</tspan><tspan x="2240" dy="16.6">的那个幼儿："现在你告诉大家你是根据这些</tspan><tspan x="2240" dy="16.6">零食的什么特征来分的。"</tspan></text></g>
<g id="p5-3c2c"><rect class="b" x="2233" y="3668" width="271" height="47" rx="6"/><text class="t" x="2240" y="3688">小结：他们这样QQ糖跟棒棒糖在一起，纯牛奶<tspan x="2240" dy="16.6">和酸奶在一起......是根据零食的种类来分的。</tspan></text></g>
<g id="p5-3d"><rect class="b" x="1752" y="3882" width="184" height="30" rx="6"/><text class="t" x="1759" y="3902">四、幼儿集体操作,第三次分类</text></g>
<g id="p5-3d1"><rect class="b" x="1966" y="3742" width="271" height="96" rx="6"/><text class="t" x="1973" y="3762">1、教师讲解操作的方法，师："这里还有很多<tspan x="1973" dy="16.6">的零食和水果要和大家来做游戏，请你们一起</tspan><tspan x="1973" dy="16.6">合作帮它们分分家。现在请四个好朋友一组，</tspan><tspan x="1973" dy="16.6">我在每一组的中间放了一大筐的水果和零食，</tspan><tspan x="1973" dy="16.6">在旁边放了几个小筐，请你们把它们分分家。</tspan></text></g>
<g id="p5-3d2"><rect class="b" x="1966" y="3865" width="175" height="30" rx="6"/><text class="t" x="1973" y="3885">2、教师讲解示范操作方法。</text></g>
<g id="p5-3d3"><rect class="b" x="1966" y="3923" width="213" height="30" rx="6"/><text class="t" x="1973" y="3943">2、幼儿集体操作，教师巡回指导。</text></g>
<g id="p5-3d4"><rect class="b" x="1966" y="3988" width="58" height="30" rx="6"/><text class="t" x="1973" y="4008">3、检验</text></g>
<g id="p5-3d4a"><rect class="b" x="2055" y="3980" width="271" height="47" rx="6"/><text class="t" x="2062" y="4000">师："现在我们一起来看一看，说一说。"分别<tspan x="2062" dy="16.6">请两组的幼儿上来跟大家一起检验。</tspan></text></g>
<g id="p5-3e"><rect class="b" x="1752" y="4227" width="129" height="30" rx="6"/><text class="t" x="1759" y="4247">五、游戏《找朋友》</text></g>
<g id="p5-3e1"><rect class="b" x="1911" y="4104" width="271" height="47" rx="6"/><text class="t" x="1918" y="4124">1、教师讲解游戏玩法，师："这里有好多的水<tspan x="1918" dy="16.6">果宝宝和零食宝宝跟你们做朋友。"</tspan></text></g>
<g id="p5-3e1a"><rect class="b" x="2212" y="4055" width="270" height="46" rx="6"/><text class="t" x="2219" y="4075">帮个别幼儿带上胸饰问："你现在是什么宝宝<tspan x="2219" dy="16.6">了啊?"(我是苹果宝宝)</tspan></text></g>
<g id="p5-3e1b"><rect class="b" x="2212" y="4128" width="270" height="96" rx="6"/><text class="t" x="2219" y="4148">师："对了，你说的真好，现在你们带上什么<tspan x="2219" dy="16.6">胸饰就是什么宝宝了。我现在请两个小朋友上</tspan><tspan x="2219" dy="16.6">来给这些宝宝分一分，鼓声开始的时候，我们</tspan><tspan x="2219" dy="16.6">就去把一样的朋友拉在一起，鼓声一停的时候</tspan><tspan x="2219" dy="16.6">看谁又快又对。"</tspan></text></g>
<g id="p5-3e2"><rect class="b" x="1911" y="4251" width="240" height="30" rx="6"/><text class="t" x="1918" y="4271">2、幼儿游戏一次，教师或幼儿去检验。</text></g>
<g id="p5-3e3"><rect class="b" x="1911" y="4309" width="271" height="97" rx="6"/><text class="t" x="1918" y="4329">3、游戏数次后结束，幼儿回教室。师："我<tspan x="1918" dy="16.6">们玩的真开心，接下来还有更高兴的事情，我</tspan><tspan x="1918" dy="16.6">们回教室检查完3组的实物后，装好后就可以</tspan><tspan x="1918" dy="16.6">去秋游了哦!跟老师们说再见吧。"幼儿离开活</tspan><tspan x="1918" dy="16.6">动室。</tspan></text></g>

<g id="watermark">
<text class="wm" transform="translate(350,700) rotate(-32)">树图 <tspan font-style="italic">shutu.cn</tspan></text>
<text class="wm" transform="translate(350,1690) rotate(-32)">树图 <tspan font-style="italic">shutu.cn</tspan></text>
<text class="wm" transform="translate(350,2700) rotate(-32)">树图 <tspan font-style="italic">shutu.cn</tspan></text>
<text class="wm" transform="translate(350,3700) rotate(-32)">树图 <tspan font-style="italic">shutu.cn</tspan></text>
<text class="wm" transform="translate(350,4700) rotate(-32)">树图 <tspan font-style="italic">shutu.cn</tspan></text>
<text class="wm" transform="translate(1620,705) rotate(-32)">树图 <tspan font-style="italic">shutu.cn</tspan></text>
<text class="wm" transform="translate(1620,1705) rotate(-32)">树图 <tspan font-style="italic">shutu.cn</tspan></text>
<text class="wm" transform="translate(1620,2710) rotate(-32)">树图 <tspan font-style="italic">shutu.cn</tspan></text>
<text class="wm" transform="translate(1620,3710) rotate(-32)">树图 <tspan font-style="italic">shutu.cn</tspan></text>
<text class="wm" transform="translate(1620,4710) rotate(-32)">树图 <tspan font-style="italic">shutu.cn</tspan></text>
</g>
</g>
</svg>
